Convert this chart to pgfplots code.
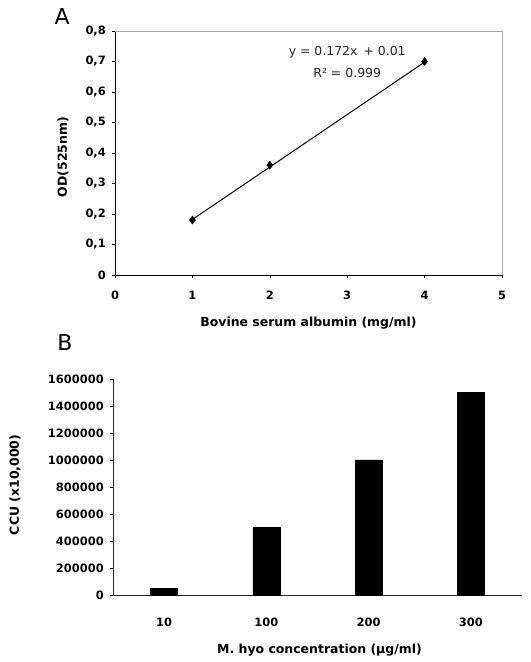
\documentclass[border=0pt]{standalone}
\usepackage{fontspec}
\setmainfont{DejaVu Sans}
\usepackage{pgfplots}
\pgfplotsset{compat=1.18}
\begin{document}
\begin{tikzpicture}
\path[use as bounding box] (0,0) rectangle (531bp,662bp);
\node[font=\fontsize{22}{24}\selectfont] at (62bp,645bp) {A};
\node[font=\fontsize{22}{24}\selectfont] at (65bp,319bp) {B};
% Chart A
\begin{axis}[
  at={(115bp,387bp)}, anchor=south west,
  scale only axis, width=387bp, height=244bp,
  xmin=0, xmax=5, ymin=0, ymax=0.8,
  axis x line=bottom, axis y line=left,
  axis line style={black, line width=0.9pt, -},
  xtick={0,1,2,3,4,5},
  ytick={0,0.1,0.2,0.3,0.4,0.5,0.6,0.7,0.8},
  yticklabels={0,{0,1},{0,2},{0,3},{0,4},{0,5},{0,6},{0,7},{0,8}},
  xticklabels={0,1,2,3,4,5},
  tick style={black, line width=0.6pt},
  xtick align=outside, ytick align=outside,
  major tick length=3bp,
  ticklabel style={font=\fontsize{11.5}{13}\selectfont\bfseries},
  xticklabel style={anchor=center, yshift=-17bp},
  yticklabel style={anchor=east, inner sep=0pt, xshift=-6bp},
  xlabel={Bovine serum albumin (mg/ml)},
  ylabel={OD(525nm)},
  label style={font=\fontsize{12.5}{14}\selectfont\bfseries},
  xlabel style={at={(axis description cs:0.5,0)}, anchor=center, yshift=-48bp},
  ylabel style={at={(axis description cs:0,0.5)}, anchor=center, yshift=52bp, xshift=-4bp},
  clip=false,
]
\draw[gray!70, line width=0.9pt] (rel axis cs:0,1) -- (rel axis cs:1,1) -- (rel axis cs:1,0);
\addplot[black, line width=1pt, no marks] coordinates {(1,0.182) (4,0.698)};
\addplot[only marks, mark=diamond*, mark size=4bp, black] coordinates {(1,0.18) (2,0.36) (4,0.70)};
\node[font=\fontsize{12.5}{14}\selectfont, text=black!85] at (axis cs:3.0,0.731) {y = 0.172x \,+ 0.01};
\node[font=\fontsize{12.5}{14}\selectfont, text=black!85] at (axis cs:3.0,0.662) {R² = 0.999};
\end{axis}
% Chart B
\begin{axis}[
  at={(113bp,67bp)}, anchor=south west,
  scale only axis, width=409bp, height=216bp,
  xmin=-0.5, xmax=3.5, ymin=0, ymax=1600000,
  axis x line=bottom, axis y line=left,
  axis line style={black!85, line width=0.9pt, -},
  ybar, bar width=27bp,
  xtick={0,1,2,3}, xticklabels={10,100,200,300},
  major x tick style={draw=none},
  ytick={0,200000,400000,600000,800000,1000000,1200000,1400000,1600000},
  yticklabels={0,200000,400000,600000,800000,1000000,1200000,1400000,1600000},
  scaled y ticks=false,
  ytick align=outside, major tick length=3bp,
  tick style={black, line width=0.6pt},
  ticklabel style={font=\fontsize{11.5}{13}\selectfont\bfseries},
  xticklabel style={anchor=center, yshift=-24bp},
  yticklabel style={anchor=east, inner sep=0pt, xshift=-6bp},
  xlabel={M. hyo concentration (µg/ml)},
  ylabel={CCU (x10,000)},
  label style={font=\fontsize{12.5}{14}\selectfont\bfseries},
  xlabel style={at={(axis description cs:0.5,0)}, anchor=center, yshift=-55bp, xshift=2bp},
  ylabel style={at={(axis description cs:0,0.5)}, anchor=center, yshift=98bp, xshift=2bp},
  clip=false,
]
\addplot[fill=black, draw=black] coordinates {(0,50000) (1,500000) (2,1000000) (3,1500000)};
\end{axis}
\end{tikzpicture}
\end{document}
